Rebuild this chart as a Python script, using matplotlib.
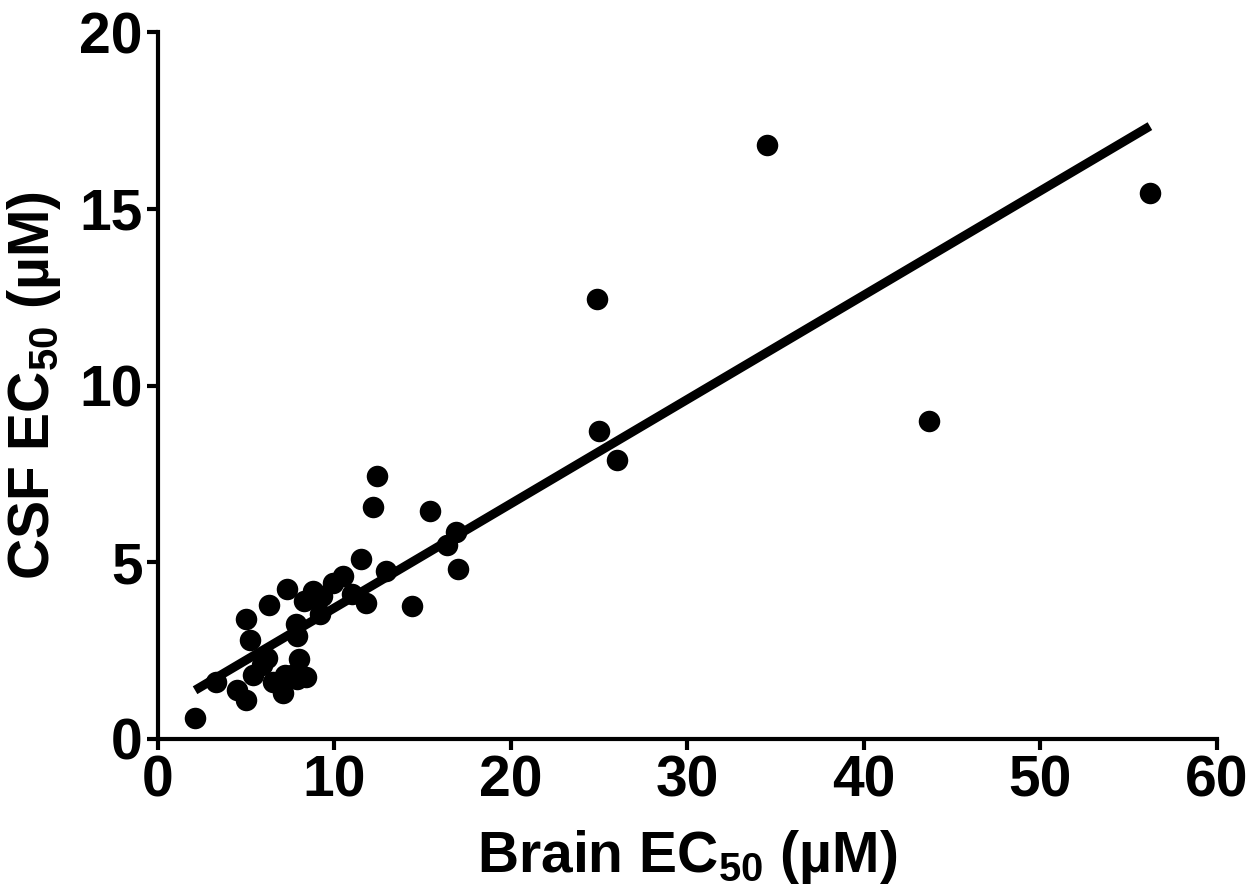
import matplotlib
matplotlib.use("Agg")
import matplotlib.pyplot as plt
import numpy as np

plt.rcParams["font.family"] = ["Liberation Sans", "DejaVu Sans"]
plt.rcParams["font.weight"] = "bold"
plt.rcParams["mathtext.fontset"] = "custom"
plt.rcParams["mathtext.rm"] = "Liberation Sans:bold"
plt.rcParams["mathtext.bf"] = "Liberation Sans:bold"
plt.rcParams["mathtext.it"] = "Liberation Sans:bold"

# EC50 values (uM) per compound
brain_ec50 = [2.1, 3.3, 4.5, 5.0, 5.0, 5.2, 5.4, 5.9, 6.2, 6.3, 6.5, 7.1, 7.3,
              7.2, 7.6, 7.8, 7.9, 8.0, 8.4, 7.9, 8.3, 8.8, 9.0, 9.3, 9.2, 9.9,
              10.5, 11.0, 11.5, 11.8, 12.2, 12.4, 12.9, 14.4, 15.4, 16.4, 16.9,
              17.0, 24.9, 25.0, 26.0, 34.5, 43.7, 56.2]
csf_ec50 = [0.6, 1.6, 1.4, 1.1, 3.4, 2.8, 1.8, 2.1, 2.3, 3.8, 1.6, 1.3, 4.25,
            1.8, 1.8, 3.25, 2.9, 2.25, 1.75, 1.7, 3.9, 4.2, 3.95, 4.05, 3.55, 4.4,
            4.6, 4.1, 5.1, 3.85, 6.55, 7.45, 4.75, 3.75, 6.45, 5.5, 5.85,
            4.8, 12.45, 8.7, 7.9, 16.8, 9.0, 15.45]

# linear regression line
fit_slope = 0.295
fit_intercept = 0.76

fig = plt.figure(figsize=(12.51, 8.91), dpi=100)
ax = fig.add_axes([0.1263, 0.1706, 0.8465, 0.7934])

ax.scatter(brain_ec50, csf_ec50, s=240, color="black", zorder=3, linewidths=0)
xf = np.array([min(brain_ec50), max(brain_ec50)])
ax.plot(xf, fit_slope * xf + fit_intercept, color="black", lw=6.5,
        solid_capstyle="butt", zorder=2)

ax.set_xlim(0, 60)
ax.set_ylim(0, 20)
ax.set_xticks([0, 10, 20, 30, 40, 50, 60])
ax.set_yticks([0, 5, 10, 15, 20])

for side in ("top", "right"):
    ax.spines[side].set_visible(False)
for side in ("left", "bottom"):
    ax.spines[side].set_linewidth(3)
ax.tick_params(width=3, length=8, labelsize=41, pad=3)
for lbl in ax.get_xticklabels() + ax.get_yticklabels():
    lbl.set_fontweight("bold")

ax.set_xlabel("Brain EC$_{50}$ (\u00b5M)", fontsize=41, fontweight="bold",
              labelpad=14)
ax.set_ylabel("CSF EC$_{50}$ (\u00b5M)", fontsize=41, fontweight="bold",
              labelpad=12)

fig.savefig("out.png", dpi=100)
